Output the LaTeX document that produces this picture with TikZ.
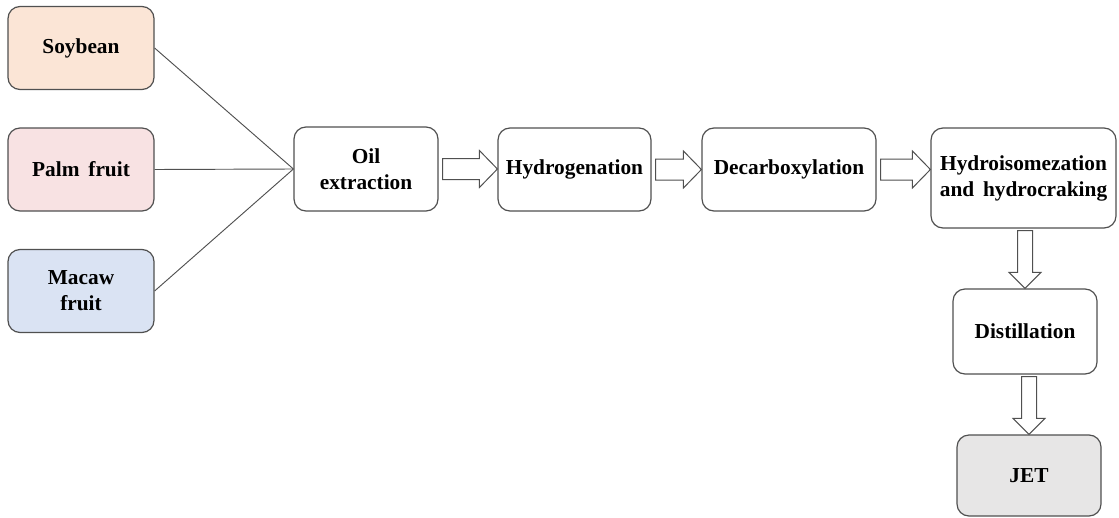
\documentclass[tikz,border=0pt]{standalone}
\usepackage{fontspec}
\setmainfont{Liberation Serif}
\usetikzlibrary{calc}
\definecolor{soyfill}{HTML}{FBE5D6}
\definecolor{palmfill}{HTML}{F8E2E3}
\definecolor{macawfill}{HTML}{DAE3F3}
\definecolor{jetfill}{HTML}{E7E6E6}
\definecolor{edge}{HTML}{505050}
\tikzset{
  box/.style={draw=edge, line width=0.9pt, rounded corners=9pt, fill=white,
    align=center, inner sep=2pt, font=\bfseries\fontsize{16}{19.5}\selectfont},
  feed/.style={draw=edge, line width=0.7pt},
  barrow/.style={draw=edge, line width=0.75pt, fill=white, line join=miter},
}
\newcommand\harrow[2]{%
  \coordinate (#1-#2-t) at (#2.west |- #1.east);
  \draw[barrow] ($(#1.east)+(4,-10.5)$) -- ($(#1-#2-t)+(-18,-10.5)$) -- ($(#1-#2-t)+(-18,-18.5)$)
    -- (#1-#2-t) -- ($(#1-#2-t)+(-18,18.5)$) -- ($(#1-#2-t)+(-18,10.5)$)
    -- ($(#1.east)+(4,10.5)$) -- cycle;}
\newcommand\varrow[2]{%
  \coordinate (#1-#2-s) at (#1.south -| #2.north);
  \draw[barrow] ($(#1-#2-s)+(-7.5,2)$) -- ($(#2.north)+(-7.5,-16)$) -- ($(#2.north)+(-16,-16)$)
    -- (#2.north) -- ($(#2.north)+(16,-16)$) -- ($(#2.north)+(7.5,-16)$)
    -- ($(#1-#2-s)+(7.5,2)$) -- cycle;}
\begin{document}
\begin{tikzpicture}[x=0.75pt, y=-0.75pt]
\useasboundingbox (0,0) rectangle (1119,517);
\node[box, fill=soyfill, minimum width=109.5pt, minimum height=62.25pt] (soy) at (81,48) {Soybean};
\node[box, fill=palmfill, minimum width=109.5pt, minimum height=62.25pt] (palm) at (81,169.5) {Palm\, fruit};
\node[box, fill=macawfill, minimum width=109.5pt, minimum height=62.25pt] (macaw) at (81,291) {Macaw\\fruit};
\node[box, minimum width=108pt, minimum height=63pt] (oil) at (366,169) {Oil\\extraction};
\node[box, minimum width=114.75pt, minimum height=62.25pt] (hyd) at (574.5,169.5) {Hydrogenation};
\node[box, minimum width=130.5pt, minimum height=62.25pt] (dec) at (789,169.5) {Decarboxylation};
\node[box, minimum width=138.75pt, minimum height=75pt] (iso) at (1023.5,178) {Hydroisomezation\\and\, hydrocraking};
\node[box, minimum width=108pt, minimum height=63.75pt] (dis) at (1025,331.5) {Distillation};
\node[box, fill=jetfill, minimum width=108pt, minimum height=60.75pt] (jet) at (1029,475.5) {JET};
\draw[feed] (soy.east) -- (oil.west);
\draw[feed] (palm.east) -- (oil.west);
\draw[feed] (macaw.east) -- (oil.west);
\harrow{oil}{hyd}
\harrow{hyd}{dec}
\harrow{dec}{iso}
\varrow{iso}{dis}
\varrow{dis}{jet}
\end{tikzpicture}
\end{document}
